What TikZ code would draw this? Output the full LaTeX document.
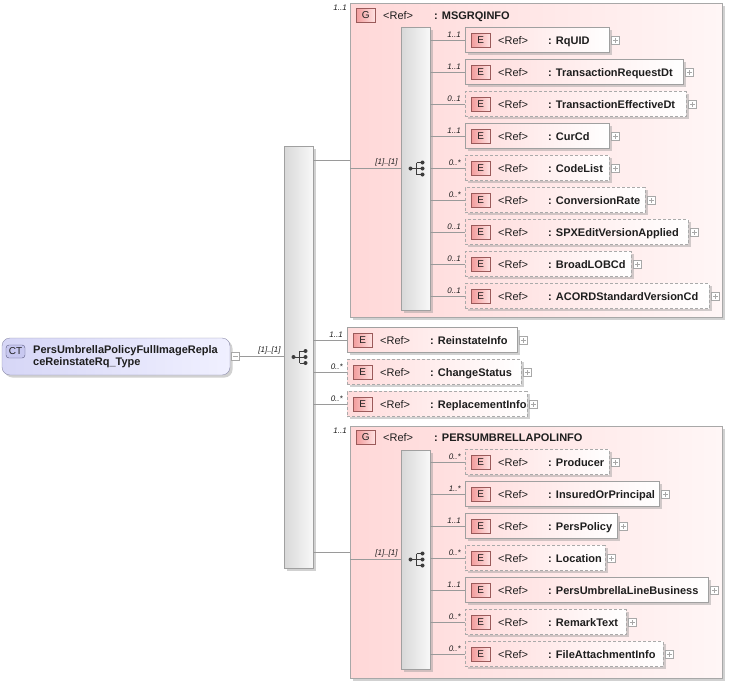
\documentclass[tikz,border=0pt]{standalone}
\usepackage{fontspec}
\setmainfont{Liberation Sans}
\usetikzlibrary{shadows}
\definecolor{txtc}{HTML}{1E1E1E}
\definecolor{grpL}{HTML}{FFD8D8}
\definecolor{grpR}{HTML}{FFF6F6}
\definecolor{grpB}{HTML}{A8A8A8}
\definecolor{elL}{HTML}{FFDCDC}
\definecolor{boxB}{HTML}{A0A0A0}
\definecolor{badgeL}{HTML}{F29C9C}
\definecolor{badgeR}{HTML}{FFE2E2}
\definecolor{badgeB}{HTML}{9A5A5A}
\definecolor{barL}{HTML}{D8D8D8}
\definecolor{barR}{HTML}{F8F8F8}
\definecolor{ctL}{HTML}{D6D6F6}
\definecolor{ctR}{HTML}{F0F0FF}
\definecolor{ctB}{HTML}{8C8CAA}
\definecolor{ctbadgeF}{HTML}{C8C8F0}
\definecolor{ctbadgeB}{HTML}{5A5A80}
\definecolor{lineC}{HTML}{9A9A9A}
\definecolor{iconC}{HTML}{3C3C3C}
\definecolor{plusC}{HTML}{A8A8A8}

\tikzset{
  shadowed/.style={drop shadow={shadow xshift=2.5pt,shadow yshift=-2.5pt,fill=black!40,opacity=0.45}},
  grp/.style={draw=grpB, left color=grpL, right color=grpR, inner sep=0pt, minimum width=372pt, shadowed},
  esolid/.style={draw=boxB, left color=elL, right color=white, minimum height=25pt, inner sep=0pt, shadowed},
  edash/.style={esolid, draw=boxB!90, dash pattern=on 3pt off 2pt},
  ebadge/.style={draw=badgeB, left color=badgeL, right color=badgeR, minimum width=19pt, minimum height=14pt, inner sep=0pt, font=\fontsize{10}{10}\selectfont, text=txtc},
  reftxt/.style={inner sep=0pt, font=\fontsize{11}{13}\selectfont, text=txtc},
  nametxt/.style={inner sep=0pt, font=\fontsize{11}{13}\selectfont\bfseries, text=txtc},
  multtxt/.style={inner sep=0pt, font=\fontsize{8}{9}\selectfont\itshape, text=txtc},
  conn/.style={draw=lineC, line width=0.8pt},
  seqbar/.style={draw=boxB, left color=barL, right color=barR, minimum width=29pt, inner sep=0pt, shadowed},
  plusbox/.style={draw=plusC, fill=white, minimum size=8pt, inner sep=0pt,
    path picture={\draw[plusC, line width=0.6pt]
      ([xshift=-2.5pt]path picture bounding box.center) -- ([xshift=2.5pt]path picture bounding box.center)
      ([yshift=-2.5pt]path picture bounding box.center) -- ([yshift=2.5pt]path picture bounding box.center);}},
  minusbox/.style={draw=plusC, fill=white, minimum size=8pt, inner sep=0pt,
    path picture={\draw[plusC, line width=0.6pt]
      ([xshift=-2.5pt]path picture bounding box.center) -- ([xshift=2.5pt]path picture bounding box.center);}},
  ctbox/.style={draw=ctB, left color=ctL, right color=ctR, rounded corners=8pt, inner sep=0pt, shadowed},
  ctbadge/.style={draw=ctbadgeB, fill=ctbadgeF, rounded corners=3pt, minimum width=19pt, minimum height=13pt, inner sep=0pt, font=\fontsize{10}{10}\selectfont, text=txtc},
  ctname/.style={inner sep=0pt, align=left, font=\fontsize{11}{12}\selectfont\bfseries, text=txtc},
  pics/seqicon/.style={code={
    \draw[iconC, line width=0.8pt] (-5,0) -- (1,0) (1,-6) -- (1,6) (1,-6) -- (7,-6) (1,0) -- (7,0) (1,6) -- (7,6);
    \fill[iconC] (-5,0) circle (2pt) (7,-6) circle (2pt) (7,0) circle (2pt) (7,6) circle (2pt);
  }}
}

% #1 name, #2 bar, #3 left x, #4 center y, #5 width, #6 style, #7 multiplicity, #8 label
\newcommand{\elembox}[8]{%
  \node[#6, minimum width=#5pt, anchor=west] (#1) at (#3,#4) {};
  \node[ebadge, anchor=west] (#1-b) at ([xshift=6pt]#1.west) {E};
  \node[reftxt, anchor=base west] (#1-r) at ([xshift=33pt,yshift=-4pt]#1.west) {<Ref>};
  \node[nametxt, anchor=base west] (#1-n) at ([xshift=83pt,yshift=-4pt]#1.west) {: #8};
  \node[plusbox, anchor=west] (#1-p) at ([xshift=2pt]#1.east) {};
  \draw[conn] (#2.east |- #1.west) -- (#1.west);
  \node[multtxt, anchor=south east] (#1-m) at ([xshift=-4pt,yshift=2pt]#1.west) {#7};
}

\begin{document}
\begin{tikzpicture}[x=1pt,y=-1pt]
\useasboundingbox (0,0) rectangle (730,686);

% groups
\node[grp, minimum height=314pt] (g1) at (536,160) {};
\node[grp, minimum height=252pt] (g2) at (536,552) {};

% main sequence bar
\node[seqbar, minimum height=422pt] (mainbar) at (298.5,357) {};
\pic at (mainbar.center) {seqicon};

% CT node
\node[ctbox, minimum width=228pt, minimum height=37pt] (ct) at (116,356.5) {};
\node[ctbadge] (ctb) at (15.5,351.5) {CT};
\node[ctname, anchor=west] (ctn) at (33,357) {PersUmbrellaPolicyFullImageRepla\\ceReinstateRq\_Type};
\node[minusbox, anchor=west] (ctm) at ([xshift=1pt]ct.east) {};
\draw[conn] (ctm.east) -- (ctm.east -| mainbar.west);
\node[multtxt, anchor=south east] (ctmult) at ([xshift=-3pt,yshift=2pt]ctm.east -| mainbar.west) {[1]..[1]};

% group 1 header and connection
\draw[conn] (mainbar.east |- g1.west) -- (g1.west);
\node[multtxt, anchor=south east] (g1m) at (347,11) {1..1};
\node[ebadge, anchor=west] (g1b) at (356,15) {G};
\node[reftxt, anchor=base west] (g1r) at (383,19) {<Ref>};
\node[nametxt, anchor=base west] (g1n) at (434,19) {: MSGRQINFO};
\node[seqbar, minimum height=283pt] (tbar) at (415.5,168.5) {};
\pic at (tbar.center) {seqicon};
\draw[conn] (g1.west |- tbar.west) -- (tbar.west);
\node[multtxt, anchor=south east] (g1s) at ([xshift=-3pt,yshift=2pt]tbar.west) {[1]..[1]};

\elembox{rquid}{tbar}{465}{40}{144}{esolid}{1..1}{RqUID}
\elembox{trdt}{tbar}{465}{72}{218}{esolid}{1..1}{TransactionRequestDt}
\elembox{tedt}{tbar}{465}{104}{221}{edash}{0..1}{TransactionEffectiveDt}
\elembox{curcd}{tbar}{465}{136}{144}{esolid}{1..1}{CurCd}
\elembox{codelist}{tbar}{465}{168}{144}{edash}{0..*}{CodeList}
\elembox{convrate}{tbar}{465}{200}{180}{edash}{0..*}{ConversionRate}
\elembox{spx}{tbar}{465}{232}{223}{edash}{0..1}{SPXEditVersionApplied}
\elembox{broad}{tbar}{465}{264}{166}{edash}{0..1}{BroadLOBCd}
\elembox{acord}{tbar}{465}{296}{244}{edash}{0..1}{ACORDStandardVersionCd}

% middle elements
\elembox{reinst}{mainbar}{347}{340}{170}{esolid}{1..1}{ReinstateInfo}
\elembox{chgst}{mainbar}{347}{372}{174}{edash}{0..*}{ChangeStatus}
\elembox{repl}{mainbar}{347}{404}{180}{edash}{0..*}{ReplacementInfo}

% group 2
\draw[conn] (mainbar.east |- g2.west) -- (g2.west);
\node[multtxt, anchor=south east] (g2m) at (347,434) {1..1};
\node[ebadge, anchor=west] (g2b) at (356,437) {G};
\node[reftxt, anchor=base west] (g2r) at (383,441) {<Ref>};
\node[nametxt, anchor=base west] (g2n) at (434,441) {: PERSUMBRELLAPOLINFO};
\node[seqbar, minimum height=219pt] (bbar) at (415.5,559.5) {};
\pic at (bbar.center) {seqicon};
\draw[conn] (g2.west |- bbar.west) -- (bbar.west);
\node[multtxt, anchor=south east] (g2s) at ([xshift=-3pt,yshift=2pt]bbar.west) {[1]..[1]};

\elembox{producer}{bbar}{465}{462}{144}{edash}{0..*}{Producer}
\elembox{insured}{bbar}{465}{494}{194}{esolid}{1..*}{InsuredOrPrincipal}
\elembox{perspol}{bbar}{465}{526}{152}{esolid}{1..1}{PersPolicy}
\elembox{location}{bbar}{465}{558}{140}{edash}{0..*}{Location}
\elembox{pulb}{bbar}{465}{590}{243}{esolid}{1..1}{PersUmbrellaLineBusiness}
\elembox{remark}{bbar}{465}{622}{161}{edash}{0..*}{RemarkText}
\elembox{fileatt}{bbar}{465}{654}{198}{edash}{0..*}{FileAttachmentInfo}
\end{tikzpicture}
\end{document}
